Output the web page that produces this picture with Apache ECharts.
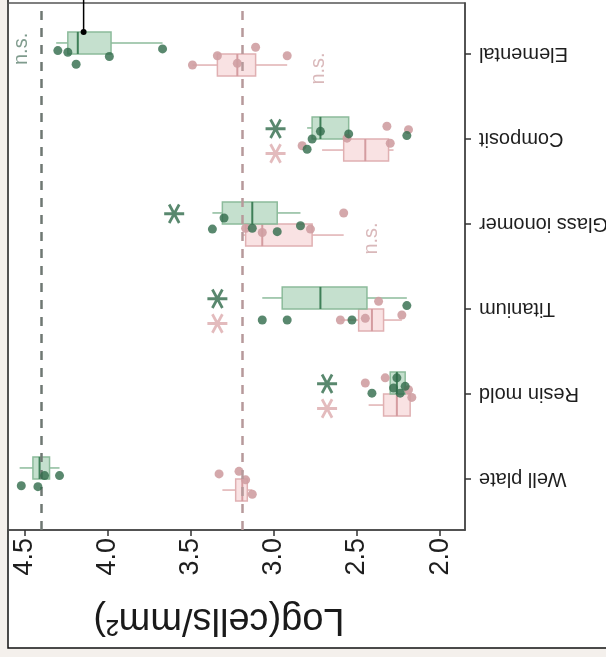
<!DOCTYPE html>
<html><head><meta charset="utf-8">
<script src="https://cdn.jsdelivr.net/npm/echarts@6/dist/echarts.min.js"></script>
<style>html,body{margin:0;padding:0;background:#f4f0ec;}#c{width:606px;height:657px;}</style>
</head><body><div id="c"></div>
<script>
// categories from bottom to top
const categories = ['Well plate', 'Resin mold', 'Titanium', 'Glass ionomer', 'Composit', 'Elemental'];
const xTicks = [2.0, 2.5, 3.0, 3.5, 4.0, 4.5];
// box stats per category: [lower whisker, Q1, median, Q3, upper whisker]
const greenBox = [
  [4.29, 4.35, 4.41, 4.45, 4.53],
  [2.21, 2.21, 2.26, 2.30, 2.30],
  [2.20, 2.44, 2.72, 2.95, 3.07],
  [2.84, 2.98, 3.13, 3.31, 3.37],
  [2.55, 2.55, 2.72, 2.77, 2.80],
  [3.67, 3.98, 4.18, 4.24, 4.31]
];
const pinkBox = [
  [3.13, 3.16, 3.19, 3.23, 3.31],
  [2.18, 2.18, 2.26, 2.34, 2.43],
  [2.23, 2.34, 2.41, 2.49, 2.60],
  [2.58, 2.77, 3.07, 3.17, 3.19],
  [2.28, 2.31, 2.45, 2.58, 2.71],
  [2.92, 3.11, 3.22, 3.34, 3.49]
];
// individual points per category
const greenPoints = [
  [4.52, 4.42, 4.38, 4.29],
  [2.41, 2.28, 2.26, 2.24, 2.21],
  [3.07, 2.92, 2.53, 2.20],
  [3.37, 3.30, 3.13, 2.98, 2.84],
  [2.80, 2.77, 2.72, 2.55, 2.20],
  [4.30, 4.24, 4.19, 3.99, 3.67]
];
const greenJitter = [
  [-0.21, -0.22, -0.09, -0.09],
  [-0.12, -0.06, 0.06, -0.12, -0.04],
  [-0.26, -0.26, -0.26, -0.09],
  [-0.19, -0.06, -0.18, -0.22, -0.15],
  [-0.25, -0.13, -0.04, -0.07, -0.09],
  [-0.09, -0.11, -0.25, -0.16, -0.07]
];
const pinkPoints = [
  [3.33, 3.21, 3.17, 3.13],
  [2.45, 2.33, 2.19, 2.17],
  [2.60, 2.45, 2.37, 2.23],
  [3.17, 3.07, 2.78, 2.58],
  [2.83, 2.56, 2.32, 2.30, 2.19],
  [3.49, 3.34, 3.22, 3.11, 2.92]
];
const pinkJitter = [
  [0.19, 0.22, 0.12, -0.05],
  [0.26, 0.32, 0.18, 0.09],
  [0.00, 0.02, 0.22, 0.06],
  [0.08, 0.03, 0.07, 0.26],
  [0.05, 0.14, 0.28, 0.08, 0.24],
  [0.00, 0.11, 0.02, 0.21, 0.11]
];
// reference (well plate median) lines
const greenRef = 4.40;
const pinkRef = 3.19;
// significance marks
const greenSig = [null, '*', '*', '*', '*', 'n.s.'];
const greenSigAt = [null, 2.68, 3.34, 3.60, 2.99, 4.52];
const pinkSig = [null, '*', '*', 'n.s.', '*', 'n.s.'];
const pinkSigAt = [null, 2.68, 3.34, 2.41, 2.99, 2.73];
const pointerAt = 4.145;

const GREEN_OFF = 0.13, PINK_OFF = -0.13, HALF = 0.13;
const C = {
  gFill: 'rgba(178,214,190,0.75)', gStroke: '#8cbb9b', gMed: '#3f7f58', gPt: '#2f6a4a', gText: '#5f8270',
  pFill: 'rgba(247,216,217,0.75)', pStroke: '#e0b0b2', pMed: '#d49ca0', pPt: '#cf9fa2', pText: '#cfa6a9'
};
const ASTER = 'path://M0 43L100 43L100 57L0 57Z M19 10.5L31 3.5L81 89.5L69 96.5Z M69 3.5L81 10.5L31 96.5L19 89.5Z';

function boxRender(offset, fill, stroke, med) {
  return function (params, api) {
    const y = api.value(0) + offset;
    const lo = api.coord([api.value(1), y]);
    const q1 = api.coord([api.value(2), y]);
    const md = api.coord([api.value(3), y]);
    const q3 = api.coord([api.value(4), y]);
    const hi = api.coord([api.value(5), y]);
    const h = api.size([0, HALF])[1];
    const x0 = Math.min(q1[0], q3[0]), x1 = Math.max(q1[0], q3[0]);
    return { type: 'group', children: [
      { type: 'line', shape: { x1: lo[0], y1: lo[1], x2: q1[0], y2: q1[1] }, style: { stroke: stroke, lineWidth: 1.5 } },
      { type: 'line', shape: { x1: q3[0], y1: q3[1], x2: hi[0], y2: hi[1] }, style: { stroke: stroke, lineWidth: 1.5 } },
      { type: 'rect', shape: { x: x0, y: q1[1] - h, width: x1 - x0, height: 2 * h }, style: { fill: fill, stroke: stroke, lineWidth: 1.5 } },
      { type: 'line', shape: { x1: md[0], y1: md[1] - h, x2: md[0], y2: md[1] + h }, style: { stroke: med, lineWidth: 2 } }
    ] };
  };
}
function pts(values, jitter, off) {
  const out = [];
  values.forEach((arr, i) => arr.forEach((v, k) => out.push([v, i + off + jitter[i][k]])));
  return out;
}
function sig(marks, at, off, want) {
  const out = [];
  marks.forEach((m, i) => { if (m && (m === '*') === (want === '*')) out.push({ value: [at[i], i + off], name: m }); });
  return out;
}

const chart = echarts.init(document.getElementById('c'), null, { renderer: 'canvas' });
chart.setOption({
  backgroundColor: '#f4f0ec',
  animation: false,
  graphic: [{ type: 'rect', z: -10, silent: true, shape: { x: 8, y: -10, width: 620, height: 658 },
    style: { fill: '#ffffff', stroke: '#111', lineWidth: 1.5 } }],
  grid: { left: 8, right: 141, top: 3, bottom: 127, show: true, borderColor: '#555', borderWidth: 1.5, backgroundColor: 'transparent',
    containLabel: false, outerBoundsMode: 'none' },
  xAxis: {
    type: 'value', inverse: true, min: 1.85, max: 4.6,
    name: 'Log(cells/mm²)', nameLocation: 'middle', nameGap: 70, nameRotate: 180,
    nameTextStyle: { fontFamily: 'Liberation Sans, Arial', fontSize: 38, color: '#1a1a1a', padding: [0, 0, 0, 35] },
    axisLine: { show: true, onZero: false, lineStyle: { color: '#444', width: 1.5 } },
    axisTick: { show: true, length: 6, customValues: xTicks, lineStyle: { color: '#333', width: 1.5 } },
    axisLabel: { customValues: xTicks, rotate: 90, margin: 8, fontSize: 27, color: '#1e1e1e', fontFamily: 'Liberation Sans, Arial',
      formatter: v => v.toFixed(1) },
    splitLine: { show: false }
  },
  yAxis: {
    type: 'value', position: 'right', min: -0.6, max: 5.6,
    axisLine: { show: true, onZero: false, lineStyle: { color: '#444', width: 1.5 } },
    axisTick: { show: true, length: 6, customValues: [0, 1, 2, 3, 4, 5], lineStyle: { color: '#333', width: 1.5 } },
    axisLabel: { customValues: [0, 1, 2, 3, 4, 5], rotate: 180, margin: 14, fontSize: 20, color: '#1e1e1e', fontFamily: 'Liberation Sans, Arial',
      formatter: v => categories[Math.round(v)] },
    splitLine: { show: false }
  },
  series: [
    { type: 'custom', name: 'pinkBox', renderItem: boxRender(PINK_OFF, C.pFill, C.pStroke, C.pMed),
      data: categories.map((c, i) => [i].concat(pinkBox[i])), encode: { x: [1, 2, 3, 4, 5], y: 0 }, z: 2,
      markLine: { silent: true, symbol: 'none', label: { show: false },
        lineStyle: { type: [9, 8], width: 2.5, color: '#b7999b' }, data: [{ xAxis: pinkRef }] } },
    { type: 'custom', name: 'greenBox', renderItem: boxRender(GREEN_OFF, C.gFill, C.gStroke, C.gMed),
      data: categories.map((c, i) => [i].concat(greenBox[i])), encode: { x: [1, 2, 3, 4, 5], y: 0 }, z: 3,
      markLine: { silent: true, symbol: 'none', label: { show: false },
        lineStyle: { type: [9, 8], width: 2.5, color: '#6f7873' }, data: [{ xAxis: greenRef }] } },
    { type: 'scatter', name: 'pinkPts', data: pts(pinkPoints, pinkJitter, PINK_OFF), symbolSize: 9, z: 4,
      itemStyle: { color: C.pPt, opacity: 0.9 } },
    { type: 'scatter', name: 'greenPts', data: pts(greenPoints, greenJitter, GREEN_OFF), symbolSize: 9, z: 5,
      itemStyle: { color: C.gPt } },
    { type: 'scatter', name: 'greenStar', data: sig(greenSig, greenSigAt, 0.12, '*'), symbol: ASTER, symbolSize: 20, z: 5,
      itemStyle: { color: C.gPt } },
    { type: 'scatter', name: 'pinkStar', data: sig(pinkSig, pinkSigAt, -0.17, '*'), symbol: ASTER, symbolSize: 20, z: 5,
      itemStyle: { color: '#dcaaad' } },
    { type: 'scatter', name: 'greenNs', data: sig(greenSig, greenSigAt, 0.06, 'ns'), symbolSize: 1, z: 5,
      itemStyle: { color: 'transparent' },
      label: { show: true, position: 'inside', formatter: p => p.name, rotate: 90, fontSize: 20, color: C.gText, fontFamily: 'Liberation Sans, Arial' } },
    { type: 'scatter', name: 'pinkNs', data: sig(pinkSig, pinkSigAt, -0.17, 'ns'), symbolSize: 1, z: 5,
      itemStyle: { color: 'transparent' },
      label: { show: true, position: 'inside', formatter: p => p.name, rotate: 90, fontSize: 20, color: C.pText, fontFamily: 'Liberation Sans, Arial' } },
    { type: 'line', name: 'pointer', clip: false, z: 6, lineStyle: { color: '#000', width: 1.5 }, itemStyle: { color: '#000' },
      data: [{ value: [pointerAt, 5.64], symbol: 'none' }, { value: [pointerAt, 5 + GREEN_OFF + HALF], symbol: 'circle', symbolSize: 6 }] }
  ]
});
</script></body></html>
